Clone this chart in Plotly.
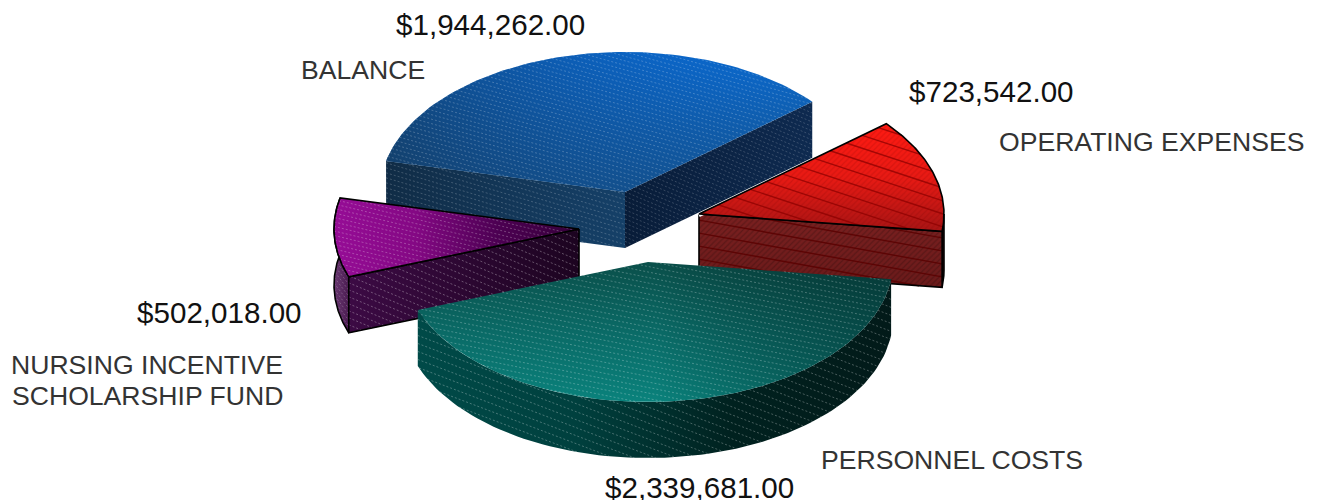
import numpy as np
import plotly.graph_objects as go

# --- data, in drawing order (clockwise from the start angle) ---
categories = ["BALANCE", "OPERATING EXPENSES", "PERSONNEL COSTS",
              "NURSING INCENTIVE<br>SCHOLARSHIP FUND"]
values = [1944262.00, 723542.00, 2339681.00, 502018.00]

# --- 3D pie geometry (canvas units, y down) ---
W, H = 1317, 500
START_DEG = 167.2
RX, RY, DEPTH = 245, 140, 56
APEX = {"BALANCE": (625, 192), "OPERATING EXPENSES": (699, 214),
        "PERSONNEL COSTS": (648, 262), "NURSING": (579, 229)}
apexes = [APEX["BALANCE"], APEX["OPERATING EXPENSES"], APEX["PERSONNEL COSTS"], APEX["NURSING"]]

total = sum(values)
sweeps = [v / total * 360 for v in values]
starts = [START_DEG - sum(sweeps[:i]) for i in range(len(values))]


def arc(c, a0, a1, n=90):
    t = np.radians(np.linspace(a0, a1, n))
    return c[0] + RX * np.cos(t), c[1] - RY * np.sin(t)


def hatch(px, py, slope, gap):
    """Parallel texture lines clipped to the polygon (px, py)."""
    px = np.r_[px, px[0]]
    py = np.r_[py, py[0]]
    k = py - slope * px
    xs, ys = [], []
    for c in np.arange(k.min() + gap / 2, k.max(), gap):
        hits = []
        for i in range(len(px) - 1):
            d0, d1 = k[i] - c, k[i + 1] - c
            if d0 * d1 < 0:
                f = d0 / (d0 - d1)
                hits.append(px[i] + f * (px[i + 1] - px[i]))
        hits.sort()
        for a, b in zip(hits[0::2], hits[1::2]):
            xs += [a, b, None]
            ys += [slope * a + c, slope * b + c, None]
    return xs, ys


fig = go.Figure()


def layer(px, py, colors, kind, lo, hi):
    fig.add_trace(go.Scatter(
        x=np.r_[px, px[0]], y=np.r_[py, py[0]], mode="lines", fill="toself",
        line=dict(width=0), hoverinfo="skip", showlegend=False,
        fillgradient=dict(type=kind, start=lo, stop=hi,
                          colorscale=[[i / (len(colors) - 1), c] for i, c in enumerate(colors)])))


def face(px, py, vert=None, horiz=None, lines=None, outline=None, pattern=None):
    if vert:
        layer(px, py, vert, "vertical", py.min(), py.max())
    if horiz:
        layer(px, py, horiz, "horizontal", px.min(), px.max())
    if pattern:
        fig.add_trace(go.Scatter(
            x=np.r_[px, px[0]], y=np.r_[py, py[0]], mode="lines", fill="toself",
            fillcolor="rgba(0,0,0,0)", line=dict(width=0), hoverinfo="skip", showlegend=False,
            fillpattern=dict(shape="/", size=4, solidity=0.3, fgcolor=pattern,
                             bgcolor="rgba(0,0,0,0)")))
    if lines:
        slope, gap, color, dash, width = lines
        hx, hy = hatch(px, py, slope, gap)
        fig.add_trace(go.Scatter(x=hx, y=hy, mode="lines", hoverinfo="skip", showlegend=False,
                                 line=dict(color=color, width=width, dash=dash)))
    if outline:
        fig.add_trace(go.Scatter(x=np.r_[px, px[0]], y=np.r_[py, py[0]], mode="lines",
                                 hoverinfo="skip", showlegend=False,
                                 line=dict(color=outline, width=1.6)))


def top(i):
    c = apexes[i]
    ax, ay = arc(c, starts[i], starts[i] - sweeps[i])
    return np.r_[c[0], ax], np.r_[c[1], ay]


def radial(i, angle):
    c = apexes[i]
    ax, ay = arc(c, angle, angle, 1)
    return (np.array([c[0], ax[0], ax[0], c[0]], float),
            np.array([c[1], ay[0], ay[0] + DEPTH, c[1] + DEPTH], float))


def outer(i, a0, a1):
    ax, ay = arc(apexes[i], a0, a1)
    return np.r_[ax, ax[::-1]], np.r_[ay, ay[::-1] + DEPTH]


WHITE = "rgba(255,255,255,0.22)"
FINE = "2px,2px"

# BALANCE
b0, b1 = starts[0], starts[0] - sweeps[0]
face(*radial(0, b1), horiz=["#081c38", "#0e2a50"], lines=(0.42, 4.5, "rgba(255,255,255,0.18)", FINE, 1))
face(*radial(0, b0), horiz=["#102c46", "#154068"], lines=(0.30, 5, "rgba(255,255,255,0.2)", FINE, 1))
face(*top(0), vert=["#0a6ad0", "#145088"], horiz=["rgba(20,50,80,0.6)", "rgba(10,100,210,0)"],
     lines=(0.28, 4.5, WHITE, FINE, 1))

# NURSING INCENTIVE SCHOLARSHIP FUND
n0, n1 = starts[3], starts[3] - sweeps[3]
face(*outer(3, n1, n0), horiz=["#6a3a72", "#4a1a50"],
     lines=(1.3, 6, "rgba(255,255,255,0.22)", FINE, 1), outline="#000000")
face(*radial(3, n0), horiz=["#3c0a44", "#1c0420"],
     lines=(0.42, 7, "rgba(255,255,255,0.30)", FINE, 1), outline="#000000")
face(*top(3), horiz=["#960c96", "#840884", "#4c0052", "#36003a"],
     lines=(0.24, 4.5, "rgba(255,255,255,0.25)", FINE, 1), outline="#000000")

# OPERATING EXPENSES
o0, o1 = starts[1], starts[1] - sweeps[1]
face(*outer(1, 0, o1), horiz=["#5a1010", "#300808"], outline="#000000")
face(*radial(1, o1), vert=["#7a2020", "#6a1a1a"], pattern="rgba(0,0,0,0.4)",
     lines=(0.18, 13, "rgba(90,0,0,0.85)", "solid", 1.4), outline="#000000")
rx_, ry_ = top(1)
fig.add_trace(go.Scatter(x=[rx_[0], rx_[1]], y=[ry_[0] + 1.5, ry_[1] + 1.5], mode="lines",
                         hoverinfo="skip", showlegend=False, line=dict(color="white", width=3.5)))
face(rx_, ry_, vert=["#ff1a12", "#e81a14", "#a81414"], pattern="rgba(90,0,0,0.30)",
     lines=(0.33, 13, "rgba(140,0,0,0.75)", "solid", 1.4), outline="#000000")

# PERSONNEL COSTS
p0, p1 = starts[2], starts[2] - sweeps[2]
face(*outer(2, p1, p0), horiz=["#004a48", "#00403e", "#00211f", "#021a19"],
     lines=(0.38, 8, "rgba(255,255,255,0.28)", FINE, 1))
face(*top(2), vert=["#0a4f4a", "#0a6a66", "#0a827c"],
     horiz=["rgba(0,0,0,0)", "rgba(0,0,0,0)", "rgba(0,30,30,0.45)"],
     lines=(0.20, 5.5, "rgba(255,255,255,0.25)", FINE, 1))

# --- text ---
money = [f"${v:,.2f}" for v in values]
value_pos = [(490, 24), (991, 91), (699, 487), (219, 312)]
name_pos = [(363, 70), (1151, 142), (952, 460), (147, None)]
annotations = []
for s, (x, y) in zip(money, value_pos):
    annotations.append(dict(x=x, y=y, text=s, showarrow=False, xref="x", yref="y",
                            xanchor="center", yanchor="middle",
                            font=dict(family="Liberation Sans, Arial", size=29.6, color="#111111")))
for name, (x, y) in zip(categories, name_pos):
    parts = name.split("<br>")
    ys = [y] if y is not None else [365, 396]
    for part, yy in zip(parts, ys):
        annotations.append(dict(x=x, y=yy, text=part, showarrow=False, xref="x", yref="y",
                                xanchor="center", yanchor="middle",
                                font=dict(family="Liberation Sans, Arial", size=26.6, color="#333333")))

fig.update_layout(
    width=W, height=H, margin=dict(l=0, r=0, t=0, b=0),
    paper_bgcolor="white", plot_bgcolor="white", showlegend=False,
    xaxis=dict(range=[0, W], visible=False, fixedrange=True),
    yaxis=dict(range=[H, 0], visible=False, fixedrange=True),
    annotations=annotations,
)
fig.write_html("out.html", config={"displayModeBar": False},
               post_script="document.body.style.margin='0';document.body.style.overflow='hidden';")
